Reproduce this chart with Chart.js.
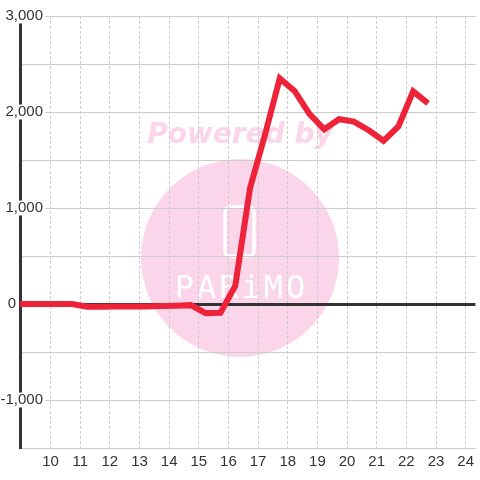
<!DOCTYPE html>
<html>
<head>
<meta charset="utf-8">
<script src="https://cdn.jsdelivr.net/npm/chart.js@4.4.0/dist/chart.umd.min.js"></script>
<style>
html,body{margin:0;padding:0;background:#fff;}
#wrap{width:480px;height:480px;position:relative;}
</style>
</head>
<body>
<div id="wrap"><canvas id="chart"></canvas></div>
<script>
// readings, every half hour
const hours = [8.73, 9.23, 9.73, 10.23, 10.73, 11.23, 11.73, 12.23, 12.73, 13.23, 13.73, 14.23, 14.73,
               15.23, 15.73, 16.23, 16.73, 17.23, 17.73, 18.23, 18.73, 19.23, 19.73, 20.23, 20.73,
               21.23, 21.73, 22.23, 22.73];
const values = [0, 0, 0, 0, 0, -28, -28, -27, -26, -25, -22, -18, -12,
                -95, -92, 190, 1210, 1760, 2350, 2220, 1980, 1820, 1925, 1900, 1810,
                1700, 1850, 2215, 2090];
const xTicks = [10, 11, 12, 13, 14, 15, 16, 17, 18, 19, 20, 21, 22, 23, 24];
const xMin = 8.97, xMax = 24.33;
const yMin = -1500, yMax = 3000, yStep = 500;

const FONT = "'Liberation Sans', Arial, sans-serif";
const LABEL = "#333";
const GRID = "#cccccc";

const watermark = {
    id: "watermark",
    beforeDraw(chart){
        const c = chart.ctx;
        c.save();
        c.fillStyle = "#fff";
        c.fillRect(0, 0, chart.width, chart.height);
        c.fillStyle = "#fbd5ea";
        c.beginPath(); c.arc(240, 258, 99, 0, Math.PI*2); c.fill();
        c.font = "italic bold 28px 'DejaVu Sans'";
        c.textAlign = "center"; c.textBaseline = "alphabetic";
        c.fillText("Powered by", 240, 143);
        c.strokeStyle = "#fff"; c.lineWidth = 3.5;
        c.beginPath(); c.roundRect(225, 207, 29, 49, 5); c.stroke();
        c.fillStyle = "#fff";
        c.font = "32px 'DejaVu Sans Mono'";
        c.letterSpacing = "3px";
        c.fillText("PARiMO", 241.5, 298);
        c.restore();
    }
};

const tickFont = {family: FONT, size: 15, lineHeight: 1};

new Chart(document.getElementById("chart"), {
    type: "line",
    data: {
        datasets: [{
            data: hours.map((h, i) => ({x: h, y: values[i]})),
            borderColor: "#ee2238",
            borderWidth: 6,
            pointRadius: 0,
            tension: 0,
            fill: false
        }]
    },
    options: {
        responsive: true,
        maintainAspectRatio: false,
        animation: false,
        layout: {padding: {top: 16, left: 0, right: 0, bottom: 0}},
        plugins: {legend: {display: false}, tooltip: {enabled: false}},
        scales: {
            x: {
                type: "linear", min: xMin, max: xMax,
                afterBuildTicks: s => { s.ticks = xTicks.map(v => ({value: v})); },
                afterFit: s => { s.height = 32; },
                grid: {color: GRID, lineWidth: 1, drawTicks: false},
                border: {display: false, dash: [3, 2]},
                ticks: {color: LABEL, font: tickFont, padding: 6, maxRotation: 0, autoSkip: false}
            },
            y: {
                position: "left", weight: 1, min: yMin, max: yMax,
                afterFit: s => { s.width = 20; },
                grid: {
                    color: c => c.tick.value === 0 ? "#333" : GRID,
                    lineWidth: c => c.tick.value === 0 ? 3 : 1,
                    drawTicks: false
                },
                border: {color: "#333", width: 3},
                ticks: {
                    stepSize: yStep,
                    callback: v => (v % 1000 === 0 && v !== 0) ? v.toLocaleString("en-US") : "",
                    mirror: true, crossAlign: "far",
                    padding: -19.5,
                    color: LABEL, font: tickFont,
                    showLabelBackdrop: c => c.tick.value % 1000 === 0 && c.tick.value !== 0,
                    backdropColor: "#fff",
                    backdropPadding: {left: 2, right: 2, top: 0, bottom: 0}
                }
            },
            y0: {
                position: "left", weight: 0, min: yMin, max: yMax,
                afterFit: s => { s.width = 0; },
                grid: {display: false, drawTicks: false},
                border: {display: false},
                ticks: {
                    stepSize: yStep,
                    callback: v => v === 0 ? "0" : "",
                    mirror: true, crossAlign: "far",
                    padding: -12.3,
                    color: LABEL, font: tickFont
                }
            }
        }
    },
    plugins: [watermark]
});
</script>
</body>
</html>
